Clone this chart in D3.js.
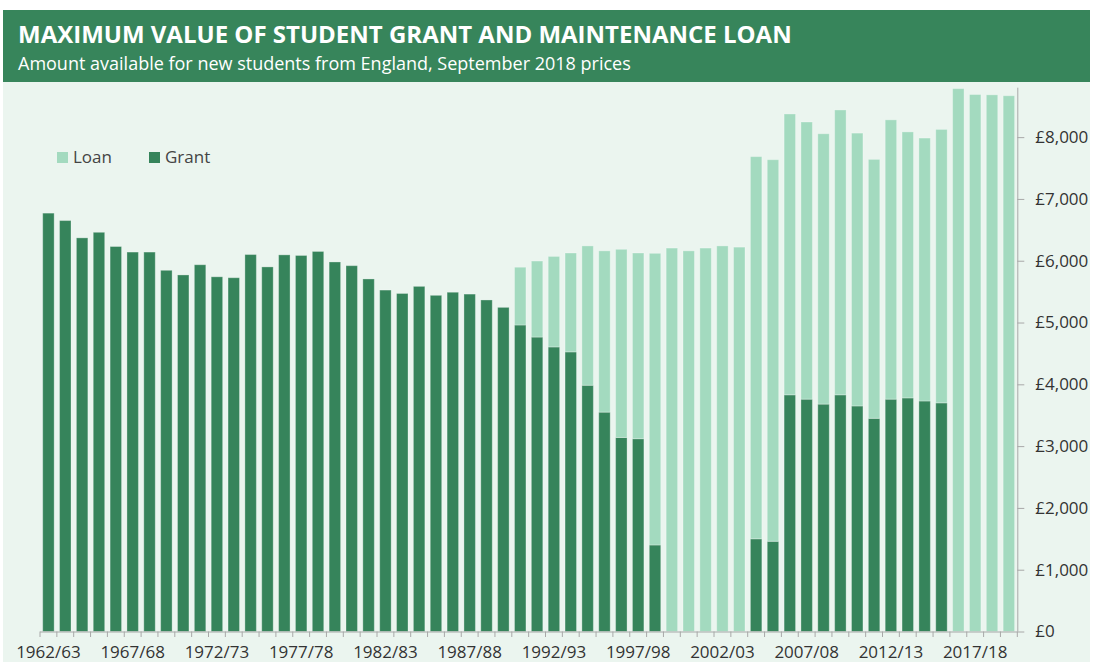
<!DOCTYPE html>
<html>
<head>
<meta charset="utf-8">
<script src="https://cdn.jsdelivr.net/npm/d3@7"></script>
<style>
  html, body { margin: 0; padding: 0; background: #ffffff; }
  svg { display: block; font-family: "Open Sans", "Noto Sans", sans-serif; }
</style>
</head>
<body>
<svg id="chart" width="1093" height="662"></svg>
<script>
const years = ["1962/63","1963/64","1964/65","1965/66","1966/67","1967/68","1968/69","1969/70","1970/71","1971/72",
  "1972/73","1973/74","1974/75","1975/76","1976/77","1977/78","1978/79","1979/80","1980/81","1981/82",
  "1982/83","1983/84","1984/85","1985/86","1986/87","1987/88","1988/89","1989/90","1990/91","1991/92",
  "1992/93","1993/94","1994/95","1995/96","1996/97","1997/98","1998/99","1999/00","2000/01","2001/02",
  "2002/03","2003/04","2004/05","2005/06","2006/07","2007/08","2008/09","2009/10","2010/11","2011/12",
  "2012/13","2013/14","2014/15","2015/16","2016/17","2017/18","2018/19","2019/20"];

const grant = [6770,6650,6370,6460,6230,6140,6140,5845,5770,5935,
  5740,5725,6100,5900,6095,6085,6150,5980,5920,5705,
  5525,5470,5585,5440,5490,5460,5365,5245,4960,4765,
  4605,4525,3985,3550,3140,3120,1400,0,0,0,
  0,0,1500,1460,3830,3760,3680,3830,3650,3450,
  3760,3780,3730,3700,0,0,0,0];

const loan = [0,0,0,0,0,0,0,0,0,0,
  0,0,0,0,0,0,0,0,0,0,
  0,0,0,0,0,0,0,0,935,1230,
  1465,1600,2255,2610,3045,3005,4720,6205,6160,6205,
  6240,6220,6185,6175,4545,4485,4375,4610,4415,4190,
  4520,4305,4255,4425,8785,8690,8685,8670];

const yTicks = [0,1000,2000,3000,4000,5000,6000,7000,8000];
const xLabels = ["1962/63","1967/68","1972/73","1977/78","1982/83","1987/88","1992/93","1997/98","2002/03","2007/08","2012/13","2017/18"];
const seriesKeys = ["grant","loan"];
const seriesNames = {grant: "Grant", loan: "Loan"};
const colors = {grant: "#36845b", loan: "#a3dabf"};

const svg = d3.select("#chart");

// panel background
svg.append("rect").attr("x", 3).attr("y", 10).attr("width", 1087).attr("height", 660).attr("fill", "#ebf5ef");
// header
svg.append("rect").attr("x", 3).attr("y", 10).attr("width", 1087).attr("height", 72).attr("fill", "#37855b");
svg.append("text").attr("x", 18).attr("y", 43).attr("fill", "#ffffff")
  .attr("font-size", 24).attr("font-weight", 700)
  .text("MAXIMUM VALUE OF STUDENT GRANT AND MAINTENANCE LOAN");
svg.append("text").attr("x", 18).attr("y", 70).attr("fill", "#ffffff")
  .attr("font-size", 18)
  .text("Amount available for new students from England, September 2018 prices");

const table = years.map((yr, i) => ({year: yr, grant: grant[i], loan: loan[i]}));

const x = d3.scaleBand().domain(years).range([40, 1017.3]).paddingInner(0.32).paddingOuter(0.16);
const y = d3.scaleLinear().domain([0, 8800]).range([631.5, 87.7]);

const stacked = d3.stack().keys(seriesKeys)(table);

const g = svg.append("g");
stacked.forEach(layer => {
  g.append("g").selectAll("rect")
    .data(layer.filter(d => d[1] - d[0] > 0))
    .join("rect")
    .attr("x", d => x(d.data.year))
    .attr("width", x.bandwidth())
    .attr("y", d => y(d[1]))
    .attr("height", d => y(d[0]) - y(d[1]))
    .attr("fill", colors[layer.key])
    .attr("stroke", "rgba(255,255,255,0.3)")
    .attr("stroke-width", 1);
});

// Y axis on right
const yAxis = svg.append("g").attr("transform", "translate(1017.3,0)")
  .call(d3.axisRight(y).tickValues(yTicks).tickSize(7).tickPadding(11)
    .tickFormat(d => "£" + d3.format(",")(d)));
yAxis.select(".domain").attr("stroke", "#a8a8a8").attr("d", `M0.5,${y(8800)}V${y(0)}`);
yAxis.selectAll(".tick line").attr("stroke", "#a8a8a8");
yAxis.selectAll(".tick text").attr("font-size", 17).attr("fill", "#333333").attr("font-family", "'Open Sans', sans-serif");

// X axis
const xAxis = svg.append("g").attr("transform", `translate(0,${y(0)})`)
  .call(d3.axisBottom(x).tickValues(xLabels).tickSize(0).tickPadding(0));
xAxis.select(".domain").attr("stroke", "#a8a8a8").attr("d", `M40,0.5H1017.3`);
xAxis.selectAll(".tick text").attr("font-size", 17).attr("fill", "#333333")
  .attr("font-family", "'Open Sans', sans-serif").attr("y", 26).attr("dy", null);
const off = (x.step() - x.bandwidth()) / 2;
const boundaries = years.map(d => x(d) - off).concat([x.range()[1]]);
xAxis.append("g").selectAll("line").data(boundaries).join("line")
  .attr("x1", d => d).attr("x2", d => d).attr("y1", 0).attr("y2", 5.5)
  .attr("stroke", "#a8a8a8");

// Legend
const legendItems = [{key: "loan", x: 57}, {key: "grant", x: 149}];
const lg = svg.append("g");
legendItems.forEach(it => {
  lg.append("rect").attr("x", it.x).attr("y", 152).attr("width", 11).attr("height", 11).attr("fill", colors[it.key]);
  lg.append("text").attr("x", it.x + 16).attr("y", 162.5).attr("font-size", 17).attr("fill", "#444444")
    .text(seriesNames[it.key]);
});
</script>
</body>
</html>
